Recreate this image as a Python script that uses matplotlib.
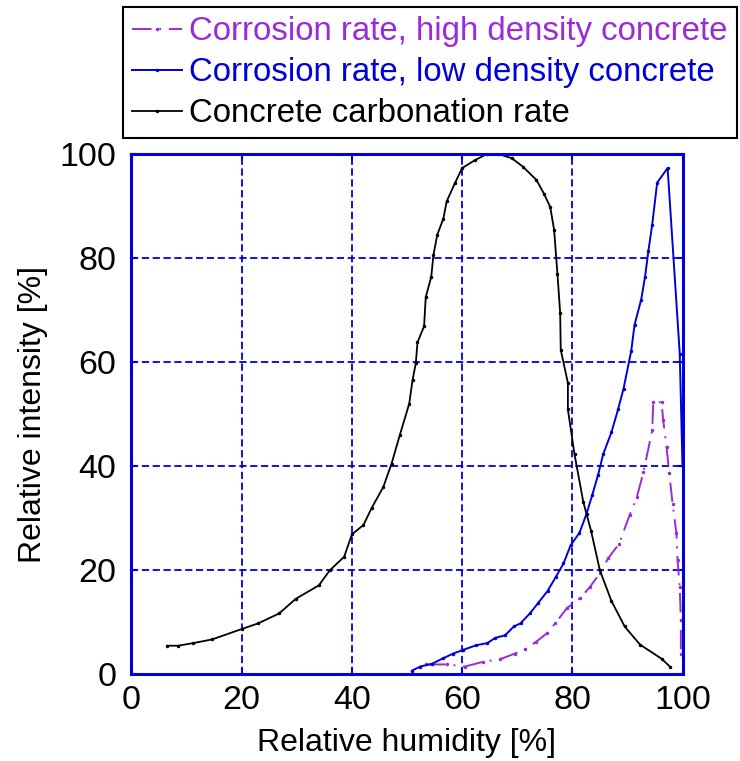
import matplotlib.pyplot as plt

plt.rcParams["font.family"] = ["Liberation Sans", "DejaVu Sans"]

# relative humidity [%] vs relative intensity [%]
rh_carb = [6.5, 8.5, 11.2, 14.6, 20.0, 23.0, 26.8, 29.8, 34.0, 36.0,
           38.6, 40.0, 42.1, 43.6, 45.7, 47.2, 48.7, 50.4, 51.0, 51.6,
           51.9, 53.1, 53.4, 54.4, 54.8, 55.5, 56.6, 57.2, 58.7, 60.0,
           62.3, 64.5, 66.6, 69.0, 71.0, 73.5, 74.9, 76.0, 76.7, 77.3,
           77.8, 77.9, 79.2, 79.2, 80.4, 82.0, 83.4, 85.0, 87.1, 89.5,
           92.3, 96.2, 97.7]
carb = [5.5, 5.5, 6.0, 6.7, 8.7, 9.8, 11.7, 14.5, 17.1, 20.0,
        22.6, 26.9, 28.7, 32.0, 36.0, 40.5, 46.0, 52.0, 56.5, 59.8,
        63.8, 66.9, 72.5, 76.4, 80.6, 84.5, 87.6, 90.9, 94.4, 97.3,
        98.8, 100.0, 100.0, 99.2, 97.6, 95.0, 92.3, 89.8, 85.4, 77.0,
        69.4, 62.4, 56.0, 50.9, 42.3, 33.1, 27.6, 20.0, 14.1, 9.2,
        5.7, 3.0, 1.5]

rh_low = [50.9, 52.4, 54.5, 56.6, 58.4, 60.2, 62.6, 64.6, 66.0, 67.8,
          69.4, 70.6, 72.3, 73.8, 75.5, 77.0, 78.4, 79.7, 81.3, 82.6,
          83.6, 84.7, 85.6, 87.1, 88.3, 89.3, 90.7, 91.3, 92.5, 93.2,
          93.8, 94.5, 95.4, 97.3, 99.5, 100.0]
low = [0.7, 1.5, 2.0, 3.1, 4.0, 4.7, 5.6, 6.0, 7.0, 7.5,
       9.2, 9.8, 11.7, 13.7, 16.0, 18.7, 21.3, 24.8, 27.2, 30.9,
       34.4, 38.4, 42.3, 46.5, 50.9, 54.9, 62.2, 67.2, 72.0, 76.4,
       81.3, 86.4, 94.5, 97.3, 61.6, 40.0]

rh_high = [53.5, 57.2, 60.5, 63.8, 66.9, 69.6, 71.4, 73.5, 75.4, 76.9,
           79.0, 81.4, 83.2, 85.0, 86.5, 88.5, 90.4, 91.7, 92.9, 94.5,
           94.7, 96.2, 96.5, 97.1, 97.6, 98.2, 98.9, 99.1, 99.5, 99.7,
           99.7]
high = [1.9, 1.9, 1.5, 2.4, 2.9, 4.0, 4.8, 6.3, 7.9, 9.8,
        12.7, 14.6, 16.8, 19.4, 22.3, 25.1, 30.6, 34.0, 38.8, 46.9,
        52.3, 52.3, 48.8, 43.7, 38.6, 32.8, 27.1, 21.9, 16.8, 10.4,
        4.0]

ticks = [0, 20, 40, 60, 80, 100]

PURPLE = "#9A2BD6"
BLUE = "#0000D8"

fig = plt.figure(figsize=(7.4, 7.61), dpi=100)
ax = fig.add_axes([0.1777, 0.1139, 0.7446, 0.6837])

l_high, = ax.plot(rh_high, high, color=PURPLE, lw=1.4, dashes=(10, 4, 1, 4),
                  marker=".", ms=3)
l_low, = ax.plot(rh_low, low, color=BLUE, lw=1.4, marker=".", ms=3)
l_carb, = ax.plot(rh_carb, carb, color="black", lw=1.3, marker=".", ms=3)

ax.set_xlim(0, 100)
ax.set_ylim(0, 100)
ax.set_xticks(ticks)
ax.set_yticks(ticks)
ax.grid(True, color=BLUE, lw=1.3, dashes=(4, 2))
for s in ax.spines.values():
    s.set_color(BLUE)
    s.set_linewidth(2.2)
ax.tick_params(direction="in", color=BLUE, length=4, width=1.5,
               labelsize=24.5, top=True, right=True)
ax.tick_params(axis="x", pad=8)
ax.tick_params(axis="y", pad=11)
ax.set_xlabel("Relative humidity [%]", fontsize=23, labelpad=8)
ax.set_ylabel("Relative intensity [%]", fontsize=23, labelpad=8)

leg = fig.legend([l_high, l_low, l_carb],
                 ["Corrosion rate, high density concrete",
                  "Corrosion rate, low density concrete",
                  "Concrete carbonation rate"],
                 loc="upper left", bbox_to_anchor=(123 / 740, 1 - 7 / 761),
                 fontsize=23.8, frameon=True, fancybox=False, framealpha=1,
                 edgecolor="black", handlelength=1.5, handletextpad=0.22,
                 borderpad=0.28, labelspacing=0.3, borderaxespad=0,
                 markerscale=1)
leg.get_frame().set_linewidth(1.5)
for txt, c in zip(leg.get_texts(), [PURPLE, BLUE, "black"]):
    txt.set_color(c)

fig.savefig("out.png", dpi=100)
